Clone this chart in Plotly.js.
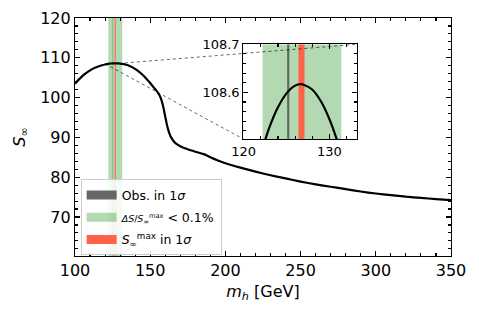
<!DOCTYPE html>
<html>
<head>
<meta charset="utf-8">
<script src="https://cdn.plot.ly/plotly-3.0.1.min.js"></script>
<style>html,body{margin:0;padding:0;background:#fff}#plot{width:479px;height:314px}</style>
</head>
<body>
<div id="plot"></div>
<script>
// ---- data ----
const mh = [100,103,106,109,112,115,118,120,121,122,123,124,125,126,126.7,127,128,129,130,131,132,133,134,136,138,141,144,147,150,152,154,155,156,157,158,159,160,161,162,163,164,165,167,170,175,180,185,188,190,195,200,210,220,230,240,250,260,270,280,290,300,310,320,330,340,350];
const Sinf = [103.5,104.7,105.75,106.6,107.28,107.75,108.12,108.321,108.403,108.471,108.527,108.569,108.598,108.614,108.617,108.616,108.606,108.582,108.545,108.495,108.432,108.355,108.265,108.02,107.65,106.95,106.05,104.95,103.65,102.7,101.8,101.3,100.7,99.9,98.7,97.1,95.2,93.4,91.9,90.75,89.95,89.35,88.5,87.8,87.0,86.4,85.85,85.4,85.0,84.2,83.5,82.4,81.4,80.5,79.7,78.9,78.2,77.6,77.0,76.4,75.9,75.5,75.1,74.8,74.5,74.25];
const obsBand = [125.07, 125.33];     // Obs. in 1 sigma
const flatBand = [122.2, 131.4];      // dS/Smax < 0.1%
const maxBand = [126.4, 127.1];       // S_inf^max in 1 sigma
const mainXRange = [100, 350];
const mainYRange = [60.2, 120];
const insetXRange = [119.95, 133.2];
const insetYRange = [108.503, 108.7];
const legendNames = [
  'Obs. in 1<i>σ</i>',
  '<span style="font-size:9.5px"><i>ΔS</i>/<i>S</i><sub>∞</sub><sup>max</sup></span> < 0.1%',
  '<i>S</i><sub>∞</sub><sup>max</sup> in 1<i>σ</i>'
];

const cGray = '#666666', cGreen = 'rgba(0,128,0,0.3)', cRed = '#ff6347';
const FONT = 'DejaVu Sans, sans-serif';

function band(b, yr, xa, ya, color) {
  return {x:[b[0],b[1],b[1],b[0],b[0]], y:[yr[0],yr[0],yr[1],yr[1],yr[0]],
    xaxis:xa, yaxis:ya, type:'scatter', mode:'none', fill:'toself', fillcolor:color,
    showlegend:false, hoverinfo:'skip'};
}
function legendItem(color, name, rank) {
  return {x:[null], y:[null], type:'scatter', mode:'lines', line:{color:color, width:9},
    name:name, showlegend:true, legendrank:rank, legendgroup:'g'+rank};
}

const traces = [
  band(flatBand, mainYRange, 'x', 'y', cGreen),
  band(obsBand, mainYRange, 'x', 'y', cGray),
  band(maxBand, mainYRange, 'x', 'y', cRed),
  {x:mh, y:Sinf, xaxis:'x', yaxis:'y', type:'scatter', mode:'lines', line:{color:'black', width:2.2, shape:'spline', smoothing:0.5}, showlegend:false},
  band(flatBand, insetYRange, 'x2', 'y2', cGreen),
  band(obsBand, insetYRange, 'x2', 'y2', cGray),
  band(maxBand, insetYRange, 'x2', 'y2', cRed),
  {x:mh, y:Sinf, xaxis:'x2', yaxis:'y2', type:'scatter', mode:'lines', line:{color:'black', width:2.2, shape:'spline', smoothing:0.8}, showlegend:false},
  legendItem(cGray, legendNames[0], 1),
  legendItem(cGreen, legendNames[1], 2),
  legendItem(cRed, legendNames[2], 3)
];

const insetDomX = [0.4476, 0.7492], insetDomY = [0.4916, 0.8895];
const px = v => (v - mainXRange[0])/(mainXRange[1]-mainXRange[0]);
const py = v => (v - mainYRange[0])/(mainYRange[1]-mainYRange[0]);

const axCommon = {showline:true, linecolor:'black', linewidth:1.1, mirror:'ticks', ticks:'inside', ticklen:5, tickwidth:1.1, tickcolor:'black', showgrid:false, zeroline:false};

const layout = {
  width:479, height:314,
  margin:{l:75, r:28, t:18, b:58},
  paper_bgcolor:'white', plot_bgcolor:'white',
  font:{family:FONT, color:'black'},
  showlegend:true,
  legend:{x:0.015, y:0.322, xanchor:'left', yanchor:'top', bgcolor:'rgba(255,255,255,0.85)', bordercolor:'#cccccc', borderwidth:1, font:{size:12.5, family:FONT}, tracegroupgap:3, itemwidth:30},
  xaxis:Object.assign({}, axCommon, {range:mainXRange, dtick:50, tick0:0, tickfont:{size:16}, minor:{dtick:10, ticks:'inside', ticklen:3, tickcolor:'black'},
    title:{text:'<i>m</i><sub><i>h</i></sub> [GeV]', font:{size:16}, standoff:6}}),
  yaxis:Object.assign({}, axCommon, {range:mainYRange, dtick:10, tick0:0, tickfont:{size:16}, minor:{dtick:2, ticks:'inside', ticklen:3, tickcolor:'black'},
    title:{text:'<i>S</i><sub>∞</sub>', font:{size:16}, standoff:10}}),
  xaxis2:Object.assign({}, axCommon, {domain:insetDomX, anchor:'y2', range:insetXRange, tickvals:[120,130], ticktext:['120','130'], tickfont:{size:13}, minor:{dtick:2, tick0:0, ticks:'inside', ticklen:3, tickcolor:'black'}}),
  yaxis2:Object.assign({}, axCommon, {domain:insetDomY, anchor:'x2', range:insetYRange, tickvals:[108.6,108.7], ticktext:['108.6','108.7'], tickfont:{size:13}, minor:{dtick:0.02, tick0:108.5, ticks:'inside', ticklen:3, tickcolor:'black'}}),
  shapes:[
    {type:'line', xref:'paper', yref:'paper', x0:px(insetXRange[1]), y0:py(insetYRange[1]), x1:insetDomX[1], y1:insetDomY[1], line:{color:'rgba(0,0,0,0.6)', width:1, dash:'dot'}, layer:'above'},
    {type:'line', xref:'paper', yref:'paper', x0:px(insetXRange[0]), y0:py(insetYRange[0]), x1:insetDomX[0], y1:insetDomY[0], line:{color:'rgba(0,0,0,0.6)', width:1, dash:'dot'}, layer:'above'}
  ]
};

Plotly.newPlot('plot', traces, layout, {displayModeBar:false, staticPlot:true});
</script>
</body>
</html>
